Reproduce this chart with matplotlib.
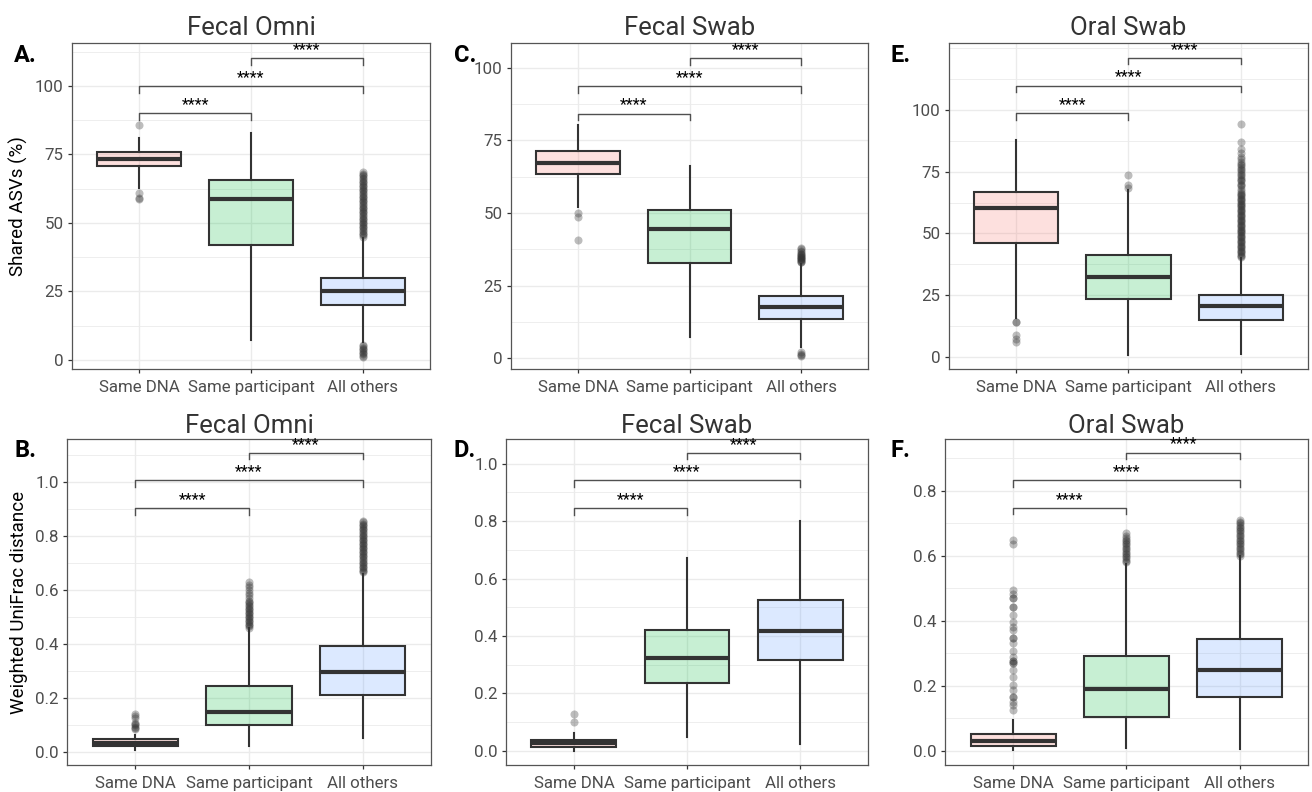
import matplotlib
matplotlib.use("Agg")
import matplotlib.pyplot as plt
from matplotlib.ticker import MultipleLocator, FixedLocator, FormatStrFormatter

# ---------------- data ----------------
categories = ["Same DNA", "Same participant", "All others"]
fill_colors = ["#F8766D", "#00BA38", "#619CFF"]

# A. Fecal Omni, shared ASVs (%)
omni_asv_q1 = [70.8, 42.0, 20.0]
omni_asv_med = [73.4, 58.8, 25.2]
omni_asv_q3 = [75.9, 65.7, 30.0]
omni_asv_lo = [62.8, 7.3, 6.5]
omni_asv_hi = [81.0, 82.8, 44.5]
omni_asv_out = [
    [85.8, 61.0, 59.3, 58.8],
    [],
    [45.0, 45.5, 46.0, 46.5, 47.0, 47.5, 48.0, 48.5, 49.0, 49.5, 50.0, 50.5,
     51.0, 51.5, 52.0, 52.5, 53.0, 53.5, 54.0, 54.5, 55.0, 55.5, 56.0, 56.5,
     57.0, 57.5, 58.0, 58.5, 59.0, 59.5, 60.0, 60.5, 61.0, 61.5, 62.0, 62.5,
     63.0, 63.5, 64.0, 64.5, 65.0, 65.5, 66.0, 66.5, 67.0, 67.5, 68.0, 68.5,
     1.0, 1.5, 2.0, 2.5, 3.0, 3.5, 4.0, 4.5, 5.0, 5.5],
]

# C. Fecal Swab, shared ASVs (%)
swab_asv_q1 = [63.4, 32.9, 13.5]
swab_asv_med = [67.3, 44.6, 17.5]
swab_asv_q3 = [71.4, 50.9, 21.4]
swab_asv_lo = [52.2, 7.2, 4.0]
swab_asv_hi = [80.3, 66.2, 32.5]
swab_asv_out = [
    [49.9, 48.7, 40.7],
    [],
    [33.0, 33.25, 33.5, 33.75, 34.0, 34.25, 34.5, 34.75, 35.0, 35.25, 35.5,
     35.75, 36.0, 36.5, 37.0, 37.5, 37.8,
     0.8, 1.2, 1.6, 2.0],
]

# E. Oral Swab, shared ASVs (%)
oral_asv_q1 = [46.0, 23.4, 15.2]
oral_asv_med = [60.3, 32.5, 20.6]
oral_asv_q3 = [66.8, 41.2, 25.3]
oral_asv_lo = [15.9, 1.1, 1.5]
oral_asv_hi = [87.6, 67.7, 40.0]
oral_asv_out = [
    [14.4, 14.4, 8.9, 7.4, 6.1],
    [68.4, 69.5, 73.8],
    [40.5, 41.0, 41.5, 42.0, 42.5, 43.0, 43.5, 44.0, 44.5, 45.0, 45.5, 46.0,
     46.5, 47.0, 47.5, 48.0, 48.5, 49.0, 49.5, 50.0, 50.5, 51.0, 51.5, 52.0,
     52.5, 53.0, 53.5, 54.0, 54.5, 55.0, 55.5, 56.0, 56.5, 57.0, 57.5, 58.0,
     58.5, 59.0, 59.5, 60.0, 60.5, 61.0, 61.5, 62.0, 62.5, 63.0, 63.5, 64.0,
     64.5, 65.0, 65.5, 66.0, 66.5, 67.0, 68.0, 69.0, 69.5, 70.0, 71.0, 71.5,
     72.0, 73.0, 73.5, 74.0, 75.0, 75.5, 76.0, 77.0, 77.5, 78.0, 79.0, 80.0,
     81.0, 82.5, 84.0, 87.0, 94.0],
]

# B. Fecal Omni, weighted UniFrac distance
omni_wuf_q1 = [0.023, 0.101, 0.211]
omni_wuf_med = [0.036, 0.150, 0.298]
omni_wuf_q3 = [0.049, 0.245, 0.393]
omni_wuf_lo = [0.008, 0.023, 0.054]
omni_wuf_hi = [0.064, 0.458, 0.660]
omni_wuf_out = [
    [0.085, 0.09, 0.095, 0.10, 0.105, 0.11, 0.125, 0.135, 0.14],
    [0.460, 0.465, 0.470, 0.475, 0.480, 0.485, 0.490, 0.495, 0.500, 0.505,
     0.510, 0.515, 0.520, 0.525, 0.530, 0.535, 0.540, 0.545, 0.550, 0.555,
     0.560, 0.570, 0.580, 0.590, 0.600, 0.610, 0.620, 0.630],
    [0.665, 0.670, 0.675, 0.680, 0.685, 0.690, 0.695, 0.700, 0.705, 0.710,
     0.715, 0.720, 0.725, 0.730, 0.735, 0.740, 0.745, 0.750, 0.755, 0.760,
     0.765, 0.770, 0.775, 0.780, 0.785, 0.790, 0.795, 0.800, 0.805, 0.810,
     0.815, 0.820, 0.825, 0.830, 0.835, 0.840, 0.845, 0.850, 0.855],
]

# D. Fecal Swab, weighted UniFrac distance
swab_wuf_q1 = [0.015, 0.237, 0.317]
swab_wuf_med = [0.027, 0.322, 0.419]
swab_wuf_q3 = [0.038, 0.422, 0.524]
swab_wuf_lo = [0.001, 0.050, 0.024]
swab_wuf_hi = [0.064, 0.671, 0.801]
swab_wuf_out = [[0.099, 0.129], [], []]

# F. Oral Swab, weighted UniFrac distance
oral_wuf_q1 = [0.015, 0.104, 0.165]
oral_wuf_med = [0.032, 0.191, 0.249]
oral_wuf_q3 = [0.051, 0.292, 0.343]
oral_wuf_lo = [0.003, 0.008, 0.005]
oral_wuf_hi = [0.095, 0.575, 0.598]
oral_wuf_out = [
    [0.649, 0.637, 0.495, 0.483, 0.47, 0.47, 0.444, 0.444, 0.418, 0.398,
     0.382, 0.372, 0.347, 0.347, 0.331, 0.306, 0.29, 0.278, 0.278, 0.27,
     0.27, 0.249, 0.229, 0.203, 0.188, 0.167, 0.167, 0.152, 0.142, 0.126],
    [0.580, 0.585, 0.590, 0.595, 0.600, 0.605, 0.610, 0.615, 0.620, 0.625,
     0.630, 0.635, 0.640, 0.645, 0.650, 0.655, 0.660, 0.670],
    [0.600, 0.605, 0.610, 0.615, 0.620, 0.625, 0.630, 0.635, 0.640, 0.645,
     0.650, 0.655, 0.660, 0.665, 0.670, 0.675, 0.680, 0.685, 0.690, 0.695,
     0.700, 0.705, 0.710],
]

# ---------------- style ----------------
plt.rcParams["font.family"] = ["Roboto", "DejaVu Sans"]
W, H = 1312, 792
fig = plt.figure(figsize=(W / 100, H / 100), dpi=100)

EDGE = "#333333"
GRID = "#EBEBEB"
TICK_TXT = "#4D4D4D"


def px_rect(left, top, right, bottom):
    # pixel box -> figure fraction
    return [left / W, 1 - bottom / H, (right - left) / W, (bottom - top) / H]


def make_stats(q1, med, q3, lo, hi, out):
    return [dict(q1=q1[i], med=med[i], q3=q3[i], whislo=lo[i], whishi=hi[i],
                 fliers=out[i]) for i in range(len(categories))]


def draw_panel(rect, title, letter, letter_xy, stats, ylim, majors, fmt,
               brackets, ylabel=None, title_pad=6):
    ax = fig.add_axes(rect)
    ax.set_axisbelow(True)
    bp = ax.bxp(stats, positions=[1, 2, 3], widths=0.75, patch_artist=True,
                showcaps=False,
                boxprops=dict(edgecolor=EDGE, linewidth=1.5),
                whiskerprops=dict(color=EDGE, linewidth=1.5),
                medianprops=dict(color=EDGE, linewidth=3.0, solid_capstyle="butt"),
                flierprops=dict(marker="o", markerfacecolor="#333333",
                                markeredgecolor="none", markersize=5.8, alpha=0.32))
    for patch, c in zip(bp["boxes"], fill_colors):
        patch.set_facecolor(matplotlib.colors.to_rgba(c, 0.22))
        patch.set_edgecolor(EDGE)

    ax.set_xlim(0.4, 3.6)
    ax.set_ylim(*ylim)
    step = majors[1] - majors[0]
    ax.yaxis.set_major_locator(FixedLocator(majors))
    ax.yaxis.set_minor_locator(MultipleLocator(step / 2))
    ax.yaxis.set_major_formatter(FormatStrFormatter(fmt))
    ax.set_xticks([1, 2, 3])
    ax.set_xticklabels(categories)
    ax.grid(True, which="major", color=GRID, linewidth=1.0)
    ax.grid(True, which="minor", axis="y", color=GRID, linewidth=0.6)
    ax.tick_params(axis="both", which="major", length=3, width=0.9,
                   color="#333333", labelcolor=TICK_TXT, labelsize=12.2)
    ax.tick_params(axis="x", which="major", pad=5)
    ax.tick_params(axis="y", which="major", pad=3)
    ax.tick_params(axis="y", which="minor", length=0)
    for s in ax.spines.values():
        s.set_color("#555555")
        s.set_linewidth(0.9)

    # significance brackets
    tip = 0.02 * (ylim[1] - ylim[0])
    for (x1, x2), y in zip([(1, 2), (1, 3), (2, 3)], brackets):
        ax.plot([x1, x1, x2, x2], [y - tip, y, y, y - tip], color="#505050",
                linewidth=1.0, clip_on=False)
        ax.annotate("****", xy=((x1 + x2) / 2, y), xytext=(0, 3),
                    textcoords="offset points", ha="center", va="baseline",
                    fontsize=11.5, color="black")

    ax.set_title(title, fontsize=18.5, color="#333333", pad=title_pad)
    if ylabel:
        ax.set_ylabel(ylabel, fontsize=13.5, color="black", labelpad=5)
    fig.text(letter_xy[0] / W, 1 - letter_xy[1] / H, letter, fontsize=17,
             fontweight="bold", ha="left", va="center")
    return ax


asv_ticks = [0, 25, 50, 75, 100]
draw_panel(px_rect(72, 43, 430, 369), "Fecal Omni", "A.", (14, 55),
           make_stats(omni_asv_q1, omni_asv_med, omni_asv_q3, omni_asv_lo,
                      omni_asv_hi, omni_asv_out),
           (-3.3, 115.7), asv_ticks, "%d", [90.1, 100.0, 110.2],
           ylabel="Shared ASVs (%)")
draw_panel(px_rect(511, 43, 868, 369), "Fecal Swab", "C.", (454, 55),
           make_stats(swab_asv_q1, swab_asv_med, swab_asv_q3, swab_asv_lo,
                      swab_asv_hi, swab_asv_out),
           (-3.7, 108.5), asv_ticks, "%d", [84.2, 93.7, 103.2])
draw_panel(px_rect(949, 43, 1308, 369), "Oral Swab", "E.", (891, 55),
           make_stats(oral_asv_q1, oral_asv_med, oral_asv_q3, oral_asv_lo,
                      oral_asv_hi, oral_asv_out),
           (-4.7, 126.9), asv_ticks, "%d", [98.5, 109.7, 120.9])

draw_panel(px_rect(67, 439, 431, 765), "Fecal Omni", "B.", (15, 450),
           make_stats(omni_wuf_q1, omni_wuf_med, omni_wuf_q3, omni_wuf_lo,
                      omni_wuf_hi, omni_wuf_out),
           (-0.047, 1.158), [0.0, 0.2, 0.4, 0.6, 0.8, 1.0], "%.1f",
           [0.903, 1.005, 1.107], ylabel="Weighted UniFrac distance", title_pad=4)
draw_panel(px_rect(506, 439, 868, 765), "Fecal Swab", "D.", (454, 450),
           make_stats(swab_wuf_q1, swab_wuf_med, swab_wuf_q3, swab_wuf_lo,
                      swab_wuf_hi, swab_wuf_out),
           (-0.049, 1.086), [0.0, 0.2, 0.4, 0.6, 0.8, 1.0], "%.1f",
           [0.845, 0.942, 1.038], title_pad=4)
draw_panel(px_rect(945, 439, 1308, 765), "Oral Swab", "F.", (891, 450),
           make_stats(oral_wuf_q1, oral_wuf_med, oral_wuf_q3, oral_wuf_lo,
                      oral_wuf_hi, oral_wuf_out),
           (-0.043, 0.959), [0.0, 0.2, 0.4, 0.6, 0.8], "%.1f",
           [0.747, 0.832, 0.917], title_pad=4)

fig.savefig("out.png", dpi=100, facecolor="white")
